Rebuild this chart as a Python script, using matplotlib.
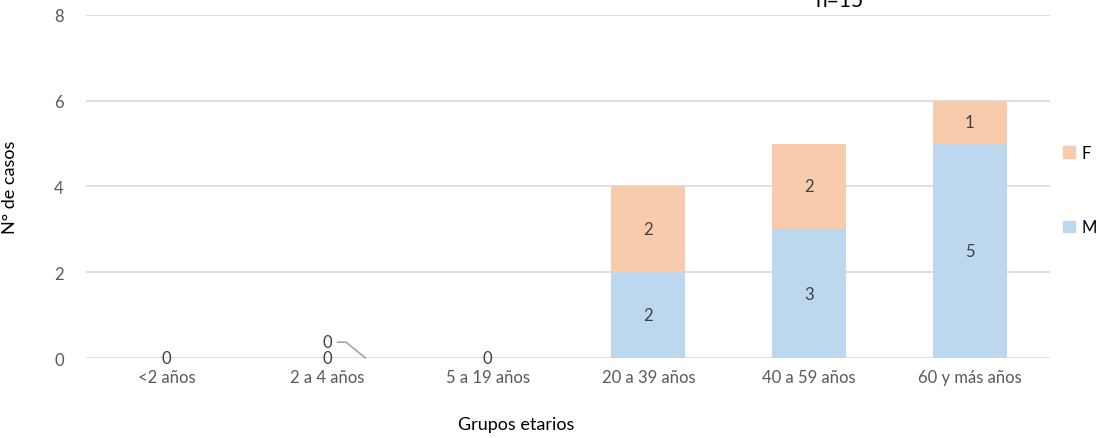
import numpy as np
import matplotlib.pyplot as plt
from matplotlib.patches import Patch

plt.rcParams['font.family'] = ['Lato', 'DejaVu Sans']

grupos = ['<2 años', '2 a 4 años', '5 a 19 años', '20 a 39 años', '40 a 59 años', '60 y más años']
casos_m = [0, 0, 0, 2, 3, 5]
casos_f = [0, 0, 0, 2, 2, 1]

col_m = '#BDD7EE'
col_f = '#F8CBAD'
txt = '#404040'

fig = plt.figure(figsize=(11.03, 4.39), dpi=100)
ax = fig.add_axes([0.078, 0.182, 0.874, 0.782])

x = np.arange(len(grupos))
m = np.array(casos_m)
f = np.array(casos_f)
ax.bar(x, m, width=0.46, color=col_m, zorder=3)
ax.bar(x, f, width=0.46, bottom=m, color=col_f, zorder=3)

# etiquetas de datos
for i in range(len(grupos)):
    if m[i] > 0:
        ax.text(x[i], m[i] / 2, str(m[i]), ha='center', va='center', fontsize=12, color=txt, zorder=4)
    else:
        ax.text(x[i], 0, '0', ha='center', va='center', fontsize=12, color=txt, zorder=4)
    if f[i] > 0:
        ax.text(x[i], m[i] + f[i] / 2, str(f[i]), ha='center', va='center', fontsize=12, color=txt, zorder=4)

# etiqueta con línea guía para F en 2 a 4 años
ax.annotate('0', xy=(1.24, 0), xytext=(1.0, 0.37), ha='center', va='center',
            fontsize=12, color=txt, zorder=4,
            arrowprops=dict(arrowstyle='-', color='#A6A6A6', lw=1.2, shrinkA=2, shrinkB=0,
                            connectionstyle='angle,angleA=0,angleB=141,rad=0'))

ax.set_xlim(-0.5, len(grupos) - 0.5)
ax.set_ylim(0, 8)
ax.set_yticks([0, 2, 4, 6, 8])
ax.set_xticks(x)
ax.set_xticklabels(grupos)
ax.tick_params(length=0, labelsize=12, colors='#595959', pad=8)
ax.tick_params(axis='y', pad=16)
ax.grid(axis='y', color='#D9D9D9', lw=1.2, zorder=0)
for s in ax.spines.values():
    s.set_visible(False)
ax.set_ylabel('N° de casos', fontsize=13, color='#000000')
ax.set_xlabel('Grupos etarios', fontsize=13, color='#000000')
ax.yaxis.set_label_coords(-0.0705, 0.5)
ax.xaxis.set_label_coords(0.446, -0.168)

fig.text(840 / 1103, 0.984, 'n=15', ha='center', va='baseline', fontsize=15, color='#000000')

handles = [Patch(color=col_f, label='F'), Patch(color=col_m, label='M')]
fig.legend(handles=handles, loc='upper left', bbox_to_anchor=(1063 / 1103, 1 - 146 / 439),
           frameon=False, fontsize=12, handlelength=0.7, handleheight=0.7,
           handletextpad=0.4, labelspacing=3.5, borderpad=0, borderaxespad=0)

fig.savefig('out.png', dpi=100)
